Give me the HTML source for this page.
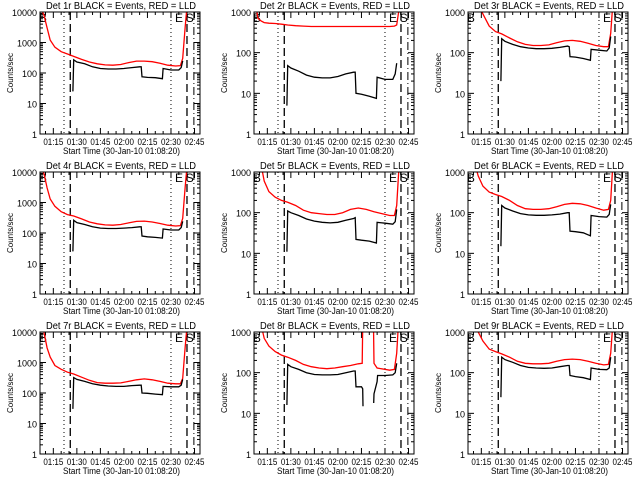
<!DOCTYPE html>
<html><head><meta charset="utf-8"><style>
body{margin:0;background:#fff;}
svg text{font-family:"Liberation Sans",sans-serif;fill:#000;}
</style></head><body>
<svg id="chart" width="640" height="480" xmlns="http://www.w3.org/2000/svg"></svg>
<script>
// shared time grids (minutes after 01:00)
const redTimes = [6.5,9,11,13,16,20,24,28,33,38,43,48,53,58,63,68,73,78,83,88,93,96,97.5,99,100];
const blackTimes = [27.5,28,30,35,40,45,50,55,60,65,70,71,71.5,75,80,84.5,85,90,95,96.5,97.5];
const xTickLabels = ["01:15","01:30","01:45","02:00","02:15","02:30","02:45"];
const xTickTimes = [15,30,45,60,75,90,105];
const markerTimes = [21.8,25.8,90,100.2,104.6];
const panelNames = ["1r","2r","3r","4r","5r","6r","7r","8r","9r"];
const panelDecades = [4,3,3,4,3,3,4,3,3];
const red1 = [15000,8000,3000,1200,700,500,420,350,280,230,200,185,180,190,220,245,245,235,210,180,170,175,300,3000,12000];
const black1 = [25,270,230,200,160,140,135,135,140,150,160,160,75,72,70,65,140,125,125,150,250];
const red2 = [3000,700,600,550,530,520,500,480,460,450,440,440,440,440,440,440,440,440,440,440,440,450,480,1200,3000];
const black2 = [5,48,42,35,28,25,24,24,26,30,33,33,10,9.5,8.5,7.5,25,22,22,30,55];
const red3 = [5000,3000,2000,1500,900,450,330,290,230,185,160,150,150,155,175,195,200,190,170,150,140,140,300,2000,5000];
const black3 = [20,220,190,160,140,130,125,125,128,135,145,140,80,78,72,65,120,115,110,130,250];
const red4 = [15000,9000,3000,1300,750,500,400,360,290,230,200,185,180,190,215,240,245,230,205,180,170,175,300,3000,12000];
const black4 = [25,260,220,190,160,145,140,140,145,150,160,160,80,75,72,68,135,125,125,150,240];
const red5 = [5000,3000,1500,600,330,240,200,180,150,115,100,95,90,90,100,120,130,120,105,95,85,85,150,1500,5000];
const black5 = [11,110,100,85,70,62,58,56,58,65,72,75,22,21,20,18,58,55,52,60,120];
const red6 = [5000,3000,1500,800,450,320,280,250,200,150,125,120,120,125,140,160,170,165,150,130,115,120,200,2000,5000];
const black6 = [15,150,130,110,95,88,86,86,88,92,100,100,35,34,32,27,85,80,78,90,160];
const red7 = [15000,10000,3000,1500,800,600,480,420,330,260,220,210,210,215,240,270,290,270,240,210,200,200,300,3000,12000];
const black7 = [30,320,280,240,200,180,170,165,165,175,180,180,100,98,92,88,165,160,160,180,280];
const red8Times = [6.5,9,11,13,16,20,24,28,33,38,43,48,53,58,63,68,73,75.5,76,82.5,83,85,90,93,96,97.5,99,100];
const red8 = [5000,3000,1500,700,450,330,270,240,200,160,140,130,125,130,140,150,165,170,5000,5000,170,130,120,115,120,300,3000,5000];
const black8Times = [27.5,28,30,35,40,45,50,55,60,65,70,71,71.5,75,75.8,76,79,82.8,83,85,85.3,90,95,96.5,97.5];
const black8 = [16,160,140,120,100,90,88,88,90,100,110,110,45,45,40,15,null,18,30,60,85,85,88,100,170];
const red9 = [5000,3000,2000,1000,600,380,330,290,240,190,170,165,165,170,190,210,215,210,190,170,155,160,300,2000,5000];
const black9 = [25,240,210,180,150,135,130,128,130,140,150,150,85,80,75,68,130,120,118,130,240];

const redSeries = [red1,red2,red3,red4,red5,red6,red7,red8,red9];
const blackSeries = [black1,black2,black3,black4,black5,black6,black7,black8,black9];

const NS="http://www.w3.org/2000/svg";
const svg=document.getElementById('chart');
const PL=[40,254,468], PT=[12,172,332], PW=160, PH=122;
const T0=6.5, T1=108.5;
function mk(tag,attrs,parent){const e=document.createElementNS(NS,tag);for(const k in attrs)e.setAttribute(k,attrs[k]);(parent||svg).appendChild(e);return e;}

for(let p=0;p<9;p++){
  const col=p%3,row=Math.floor(p/3);
  const L=PL[col],T=PT[row],dec=panelDecades[p];
  const xs=t=>L+(t-T0)/(T1-T0)*PW;
  const xsInv=x=>(x-L)/PW*(T1-T0)+T0;
  const ys=v=>T+PH-Math.log10(v)/dec*PH;
  const g=mk('g',{});
  
  
  const cp=mk('clipPath',{id:'cp'+p},g);
  mk('rect',{x:L,y:T,width:PW,height:PH},cp);
  const title=mk('text',{x:L+6,y:T-3,'font-size':'10',textLength:'150',lengthAdjust:'spacingAndGlyphs'},g);
  title.textContent='Det '+panelNames[p]+' BLACK = Events, RED = LLD';
  
  
  const yl=mk('text',{x:0,y:0,'text-anchor':'middle','font-size':'8',transform:'translate('+(L-27)+','+(T+PH/2)+') rotate(-90)'},g);
  yl.textContent='Counts/sec';
  
  
  const xl=mk('text',{x:L+23,y:T+PH+20,'font-size':'9',textLength:'117',lengthAdjust:'spacingAndGlyphs'},g);
  xl.textContent='Start Time (30-Jan-10 01:08:20)';
  
  
  for(let d=0;d<=dec;d++){
    const y=ys(Math.pow(10,d));
    mk('line',{x1:L,x2:L+6,y1:y,y2:y,stroke:'#000'},g);
    mk('line',{x1:L+PW,x2:L+PW-6,y1:y,y2:y,stroke:'#000'},g);
    const tl=mk('text',{x:L-3,y:y+4,'text-anchor':'end','font-size':'9'},g);
    tl.textContent=String(Math.pow(10,d));
    
    
    if(d<dec)for(let m=2;m<10;m++){const yy=ys(m*Math.pow(10,d));
      mk('line',{x1:L,x2:L+3,y1:yy,y2:yy,stroke:'#000'},g);
      mk('line',{x1:L+PW,x2:L+PW-3,y1:yy,y2:yy,stroke:'#000'},g);}
  }
  for(let t=10;t<=T1;t+=5){const x=xs(t);const major=(t%15===0);const len=major?6:3;
    mk('line',{x1:x,x2:x,y1:T+PH,y2:T+PH-len,stroke:'#000'},g);
    mk('line',{x1:x,x2:x,y1:T,y2:T+len,stroke:'#000'},g);}
  xTickTimes.forEach((t,i)=>{const tl=mk('text',{x:xs(t)-10,y:T+PH+11,'font-size':'9',textLength:'20',lengthAdjust:'spacingAndGlyphs'},g);
    tl.textContent=xTickLabels[i];
    
    });
  const styles=['1,3','8,4','1,3','8,4','8,3,1,3'];
  markerTimes.forEach((t,i)=>{const x=xs(t);
    const ln=mk('line',{x1:x,x2:x,y1:T,y2:T+PH,stroke:'#000','stroke-dasharray':styles[i],'stroke-width':i%2?1.3:1},g);
    
    });
  [['B',T0+1.8],['E',xsInv(xs(markerTimes[3])-8)],['S',markerTimes[4]-2.6]].forEach(([s,t])=>{
    const tx=mk('text',{x:xs(t),y:T+10,'text-anchor':'middle','font-size':'12'},g);
    tx.textContent=s;
    
    });
  function path(ts,vs){let d='',pen=false;for(let i=0;i<ts.length;i++){if(vs[i]==null){pen=false;continue;}
      d+=(pen?'L':'M')+xs(ts[i]).toFixed(1)+','+ys(vs[i]).toFixed(1);pen=true;}return d;}
  const rt=p===7?red8Times:redTimes, bt=p===7?black8Times:blackTimes;
  const rp=mk('path',{d:path(rt,redSeries[p]),fill:'none',stroke:'#f00','stroke-width':1.3,'clip-path':'url(#cp'+p+')'},g);
  
  
  const bp=mk('path',{d:path(bt,blackSeries[p]),fill:'none',stroke:'#000','stroke-width':1.3,'clip-path':'url(#cp'+p+')'},g);
  
  
  const fr=mk('rect',{x:L,y:T,width:PW,height:PH,fill:'none',stroke:'#000'},g);
  
  
}
</script>
</body></html>
